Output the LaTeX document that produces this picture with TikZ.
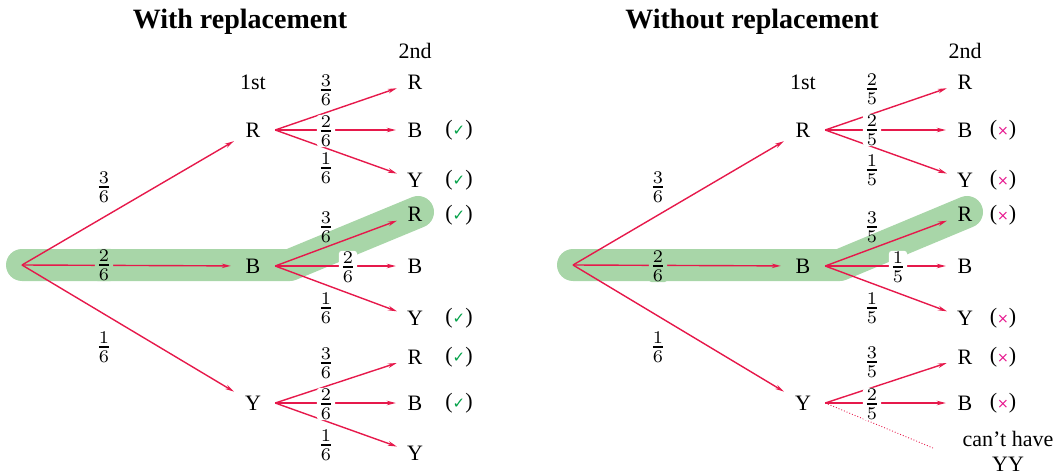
\documentclass[tikz,border=0pt]{standalone}
\usepackage{graphicx}
\usepackage[no-math]{fontspec}
\setmainfont{Liberation Serif}
\newfontfamily\symfont{DejaVu Sans}
\usetikzlibrary{arrows.meta}
\definecolor{arr}{RGB}{230,25,75}
\definecolor{band}{RGB}{168,214,168}
\definecolor{okgreen}{RGB}{0,160,70}
\definecolor{nopink}{RGB}{230,20,140}
\tikzset{
  lvlone/.style={circle,inner sep=0pt,minimum size=44pt,font=\fontsize{22}{26}\selectfont},
  lvltwo/.style={circle,inner sep=0pt,minimum size=38pt,font=\fontsize{22}{26}\selectfont},
  heading/.style={font=\fontsize{22}{26}\selectfont},
  notetext/.style={font=\fontsize{22}{25}\selectfont},
  titletext/.style={font=\bfseries\fontsize{28}{32}\selectfont},
  frac/.style={fill=white,inner sep=1pt,rounded corners=3pt},
  branch/.style={draw=arr,line width=1.4pt,-{Stealth[length=9pt,width=4.5pt]}},
  hl/.style={draw=band,line width=32pt,line cap=round,line join=round},
  okmark/.style={font=\fontsize{22}{26}\selectfont},
}
\newcommand{\fr}[2]{\scalebox{2.55}{$\frac{#1}{#2}$}}
\newcommand{\okm}{({\symfont\fontsize{15}{15}\selectfont\color{okgreen}✓})}
\newcommand{\nom}{({\symfont\fontsize{14}{14}\selectfont\color{nopink}×})}
\begin{document}
\begin{tikzpicture}[x=1pt,y=-1pt]
\useasboundingbox (0,0) rectangle (1063,476);
% ---------- LEFT ----------
\coordinate (Lroot) at (22,265);
\path[hl] (Lroot) -- (290,265) -- (418,212);
\node[titletext] (Ltitle) at (240,22) {With replacement};
\node[heading] (Lfirst) at (253,82) {1st};
\node[heading] (Lsecond) at (415,51) {2nd};
\node[lvlone] (LR) at (253,130) {R};
\node[lvlone] (LB) at (253,266) {B};
\node[lvlone] (LY) at (253,403) {Y};
\node[lvltwo] (LRR) at (415,82) {R};
\node[lvltwo] (LRB) at (415,130) {B};
\node[lvltwo] (LRY) at (415,180) {Y};
\node[lvltwo] (LBR) at (415,214) {R};
\node[lvltwo] (LBB) at (415,266) {B};
\node[lvltwo] (LBY) at (415,318) {Y};
\node[lvltwo] (LYR) at (415,357) {R};
\node[lvltwo] (LYB) at (415,403) {B};
\node[lvltwo] (LYY) at (415,453) {Y};
\draw[branch] (Lroot) -- (LR);
\draw[branch] (Lroot) -- (LB);
\draw[branch] (Lroot) -- (LY);
\foreach \a in {R,B,Y}{
  \draw[branch] (L\a.east) -- (L\a R);
  \draw[branch] (L\a.east) -- (L\a B);
  \draw[branch] (L\a.east) -- (L\a Y);
}
\node[frac] (Lf1) at (104,187) {\fr{3}{6}};
\node[frac,fill=band] (Lf2) at (104,265) {\fr{2}{6}};
\node[frac] (Lf3) at (104,347) {\fr{1}{6}};
\node[frac] (Lf4) at (326,90) {\fr{3}{6}};
\node[frac] (Lf5) at (326,131) {\fr{2}{6}};
\node[frac] (Lf6) at (326,168) {\fr{1}{6}};
\node[frac,fill=none] (Lf7) at (326,227) {\fr{3}{6}};
\node[frac] (Lf8) at (348,267) {\fr{2}{6}};
\node[frac] (Lf9) at (326,308) {\fr{1}{6}};
\node[frac] (Lf10) at (326,363) {\fr{3}{6}};
\node[frac] (Lf11) at (326,404) {\fr{2}{6}};
\node[frac] (Lf12) at (326,445) {\fr{1}{6}};
\node[okmark] (Lm1) at (459,130) {\okm};
\node[okmark] (Lm2) at (459,180) {\okm};
\node[okmark] (Lm3) at (459,215) {\okm};
\node[okmark] (Lm4) at (459,318) {\okm};
\node[okmark] (Lm5) at (459,357) {\okm};
\node[okmark] (Lm6) at (459,403) {\okm};
% ---------- RIGHT ----------
\coordinate (Rroot) at (573,265);
\path[hl] (Rroot) -- (840,265) -- (967,212);
\node[titletext] (Rtitle) at (752,22) {Without replacement};
\node[heading] (Rfirst) at (803,82) {1st};
\node[heading] (Rsecond) at (965,51) {2nd};
\node[lvlone] (RR) at (803,130) {R};
\node[lvlone] (RB) at (803,266) {B};
\node[lvlone] (RY) at (803,403) {Y};
\node[lvltwo] (RRR) at (965,82) {R};
\node[lvltwo] (RRB) at (965,130) {B};
\node[lvltwo] (RRY) at (965,180) {Y};
\node[lvltwo] (RBR) at (965,214) {R};
\node[lvltwo] (RBB) at (965,266) {B};
\node[lvltwo] (RBY) at (965,318) {Y};
\node[lvltwo] (RYR) at (965,357) {R};
\node[lvltwo] (RYB) at (965,403) {B};
\coordinate (RYend) at (933,448);
\draw[branch] (Rroot) -- (RR);
\draw[branch] (Rroot) -- (RB);
\draw[branch] (Rroot) -- (RY);
\foreach \a in {R,B}{
  \draw[branch] (R\a.east) -- (R\a R);
  \draw[branch] (R\a.east) -- (R\a B);
  \draw[branch] (R\a.east) -- (R\a Y);
}
\draw[branch] (RY.east) -- (RYR);
\draw[branch] (RY.east) -- (RYB);
\draw[draw=arr,line width=0.9pt,dotted] (RY.east) -- (RYend);
\node[frac] (Rf1) at (658,187) {\fr{3}{6}};
\node[frac,fill=band] (Rf2) at (658,266) {\fr{2}{6}};
\node[frac] (Rf3) at (658,347) {\fr{1}{6}};
\node[frac] (Rf4) at (872,89) {\fr{2}{5}};
\node[frac] (Rf5) at (872,130) {\fr{2}{5}};
\node[frac] (Rf6) at (872,170) {\fr{1}{5}};
\node[frac,fill=none] (Rf7) at (872,227) {\fr{3}{5}};
\node[frac] (Rf8) at (898,267) {\fr{1}{5}};
\node[frac] (Rf9) at (872,308) {\fr{1}{5}};
\node[frac] (Rf10) at (872,362) {\fr{3}{5}};
\node[frac] (Rf11) at (872,404) {\fr{2}{5}};
\node[okmark] (Rm1) at (1003,130) {\nom};
\node[okmark] (Rm2) at (1003,180) {\nom};
\node[okmark] (Rm3) at (1003,215) {\nom};
\node[okmark] (Rm4) at (1003,318) {\nom};
\node[okmark] (Rm5) at (1003,357) {\nom};
\node[okmark] (Rm6) at (1003,403) {\nom};
\node[notetext,align=center,anchor=south,inner sep=0pt] (Rnote) at (1008,472) {can’t have\\YY};
\end{tikzpicture}
\end{document}
